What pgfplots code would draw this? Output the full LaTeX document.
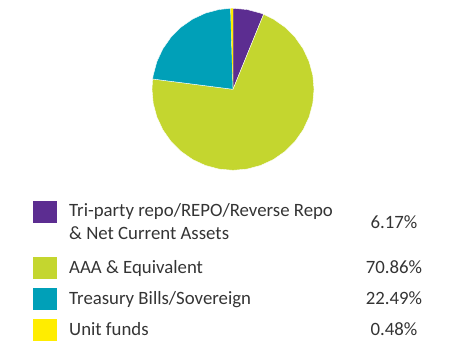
\documentclass[border=0pt]{standalone}
\usepackage{fontspec}
\setmainfont{Carlito}
\usepackage{pgfplots}
\pgfplotsset{compat=1.18}
\definecolor{cPurple}{RGB}{92,45,145}
\definecolor{cGreen}{RGB}{196,214,47}
\definecolor{cTeal}{RGB}{0,160,184}
\definecolor{cYellow}{RGB}{255,237,0}
\definecolor{txt}{RGB}{52,52,52}
\begin{document}
\begin{tikzpicture}[x=1bp,y=1bp]
\path[use as bounding box] (0,0) rectangle (470,358);
% Shares: 6.17, 70.86, 22.49, 0.48 (%), clockwise from 12 o'clock
\begin{axis}[at={(233bp,268.7bp)}, anchor=center, x=81bp, y=81bp,
  xmin=-1, xmax=1, ymin=-1, ymax=1, hide axis, clip=false]
\addplot[fill=cPurple, draw=white, line width=0.4bp, data cs=polar] coordinates
  {(0,0) (90,1) (80,1) (70,1) (67.79,1)} -- cycle;
\addplot[fill=cGreen, draw=white, line width=0.4bp, data cs=polar] coordinates
  {(0,0) (67.79,1) (60,1) (50,1) (40,1) (30,1) (20,1) (10,1) (0,1)
   (-10,1) (-20,1) (-30,1) (-40,1) (-50,1) (-60,1) (-70,1) (-80,1) (-90,1)
   (-100,1) (-110,1) (-120,1) (-130,1) (-140,1) (-150,1) (-160,1) (-170,1)
   (-180,1) (-187.31,1)} -- cycle;
\addplot[fill=cTeal, draw=white, line width=0.4bp, data cs=polar] coordinates
  {(0,0) (-187.31,1) (-190,1) (-200,1) (-210,1) (-220,1) (-230,1) (-240,1)
   (-250,1) (-260,1) (-268.27,1)} -- cycle;
\addplot[fill=cYellow, draw=none, data cs=polar] coordinates
  {(0,0) (-268.27,1) (-270,1)} -- cycle;
\end{axis}
\fill[cPurple] (32.5,135) rectangle (56.5,157);
\fill[cGreen] (32.5,79.5) rectangle (56.5,101.5);
\fill[cTeal] (32.5,48) rectangle (56.5,70);
\fill[cYellow] (32.5,17) rectangle (56.5,39);
\begin{scope}[every node/.style={inner sep=0pt, text=txt, font=\fontsize{18.8bp}{23bp}\selectfont}]
\node[anchor=base west] at (69,142) {Tri-party repo/REPO/Reverse Repo};
\node[anchor=base west] at (69,119) {\& Net Current Assets};
\node[anchor=base west] at (69,85) {AAA \& Equivalent};
\node[anchor=base west] at (69,54) {Treasury Bills/Sovereign};
\node[anchor=base west] at (69,23) {Unit funds};
\node[anchor=base] at (394,130) {6.17\%};
\node[anchor=base] at (394,85) {70.86\%};
\node[anchor=base] at (394,54) {22.49\%};
\node[anchor=base] at (394,23) {0.48\%};
\end{scope}
\end{tikzpicture}
\end{document}
